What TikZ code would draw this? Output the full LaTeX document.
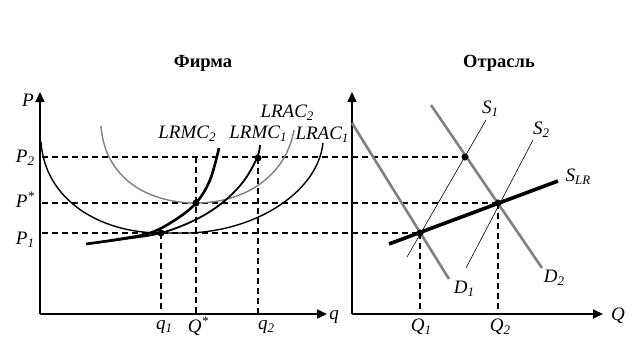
\documentclass[tikz,border=0pt]{standalone}
\usepackage{fontspec}
\setmainfont{Liberation Serif}
\usetikzlibrary{arrows.meta}
\newcommand{\sbi}[1]{\raisebox{-0.35ex}{\fontsize{13}{13}\selectfont\itshape #1}}
\newcommand{\spi}[1]{\raisebox{0.85ex}{\fontsize{13}{13}\selectfont #1}}
\tikzset{
  axis/.style={line width=1.8pt,-{Triangle[length=10pt,width=9pt]}},
  dline/.style={line width=1.1pt,dash pattern=on 6pt off 4pt},
  dot/.style={circle,fill=black,inner sep=0,minimum size=7pt},
  lbl/.style={font=\fontsize{19}{19}\selectfont\itshape,inner sep=0},
  ttl/.style={font=\fontsize{18.5}{18.5}\selectfont\bfseries,inner sep=0},
  grayc/.style={draw=black!50},
}
\begin{document}
\begin{tikzpicture}[x=1pt,y=-1pt]
\useasboundingbox (0,0) rectangle (642,361);
% titles
\node[ttl] (t1) at (203,63) {Фирма};
\node[ttl] (t2) at (499,63) {Отрасль};
% left axes
\coordinate (O1) at (40,314);
\coordinate (Y1) at (40,92);
\coordinate (X1) at (327,314);
\draw[axis] (O1) -- (Y1);
\draw[axis] (O1) -- (X1);
% right axes
\coordinate (O2) at (352,314);
\coordinate (Y2) at (352,92);
\coordinate (X2) at (603,314);
\draw[axis] (O2) -- (Y2);
\draw[axis] (O2) -- (X2);
% dots
\node[dot] (A) at (161,233) {};
\node[dot] (B) at (196,203) {};
\node[dot] (C) at (258,158) {};
\node[dot] (E1) at (420,233) {};
\node[dot] (E2) at (498,203) {};
\node[dot] (E3) at (465,157) {};
% dashed horizontals
\coordinate (h2) at (42,157);
\coordinate (hs) at (42,203);
\coordinate (h1) at (42,233);
\draw[dline] (h2) -- (E3.center);
\draw[dline] (hs) -- (E2.center);
\draw[dline] (h1) -- (E1.center);
% dashed verticals
\coordinate (vq1) at (161,313);
\coordinate (vQs) at (196,313);
\coordinate (vQt) at (196,157);
\coordinate (vq2) at (258,313);
\coordinate (vQ1) at (420,313);
\coordinate (vQ2) at (498,313);
\draw[dline] (A.center) -- (vq1);
\draw[dline] (vQt) -- (vQs);
\draw[dline] (C.center) -- (vq2);
\draw[dline] (E1.center) -- (vQ1);
\draw[dline] (E2.center) -- (vQ2);
% left curves
\draw[line width=1.4pt] (41,142) .. controls (45,200) and (100,233) .. (A.center) -- (190,233) .. controls (260,230) and (318,190) .. (323,143);
\draw[grayc,line width=1.4pt] (101,126) .. controls (105,180) and (150,203) .. (B.center) .. controls (240,203) and (285,180) .. (294,130);
\draw[line width=1.8pt] plot[smooth,tension=0.6] coordinates {(86,244) (125,239) (161,233) (195,220) (222,203) (243,182) (257,158) (260,145)};
\draw[line width=2.6pt] plot[smooth,tension=0.6] coordinates {(86,244) (120,239) (150,233) (175,220) (196,203) (210,180) (219,148)};
% right lines
\coordinate (D1a) at (352,123); \coordinate (D1b) at (449,279);
\coordinate (D2a) at (431,105); \coordinate (D2b) at (542,268);
\coordinate (S1a) at (407,257); \coordinate (S1b) at (486,120);
\coordinate (S2a) at (466,268); \coordinate (S2b) at (533,140);
\coordinate (SLa) at (389,244); \coordinate (SLb) at (558,181);
\draw[grayc,line width=2.6pt] (D1a) -- (D1b);
\draw[grayc,line width=2.6pt] (D2a) -- (D2b);
\draw[line width=0.6pt] (S1a) -- (S1b);
\draw[line width=0.6pt] (S2a) -- (S2b);
\draw[line width=3.6pt] (SLa) -- (SLb);
% redraw dots on top
\fill (A) circle (3.3pt) (B) circle (3.3pt) (C) circle (3.3pt) (E1) circle (3.3pt) (E2) circle (3.3pt) (E3) circle (3.3pt);
% labels left
\node[lbl] (lP) at (28,100) {P};
\node[lbl] (lP2) at (25,158) {P\sbi{2}};
\node[lbl] (lPs) at (25,200) {P\spi{*}};
\node[lbl] (lP1) at (25,240) {P\sbi{1}};
\node[lbl] (lq1) at (164,327) {q\sbi{1}};
\node[lbl] (lQs) at (198,326) {Q\spi{*}};
\node[lbl] (lq2) at (266,327) {q\sbi{2}};
\node[lbl] (lq) at (334,317) {q};
\node[lbl] (lMC2) at (187,134) {LRMC\sbi{2}};
\node[lbl] (lMC1) at (258,134) {LRMC\sbi{1}};
\node[lbl] (lAC2) at (287,113) {LRAC\sbi{2}};
\node[lbl] (lAC1) at (322,135) {LRAC\sbi{1}};
% labels right
\node[lbl] (lQ1) at (421,327) {Q\sbi{1}};
\node[lbl] (lQ2) at (500,327) {Q\sbi{2}};
\node[lbl] (lQ) at (618,316) {Q};
\node[lbl] (lS1) at (490,109) {S\sbi{1}};
\node[lbl] (lS2) at (541,130) {S\sbi{2}};
\node[lbl] (lSLR) at (578,177) {S\sbi{LR}};
\node[lbl] (lD1) at (464,289) {D\sbi{1}};
\node[lbl] (lD2) at (554,278) {D\sbi{2}};
\end{tikzpicture}
\end{document}
